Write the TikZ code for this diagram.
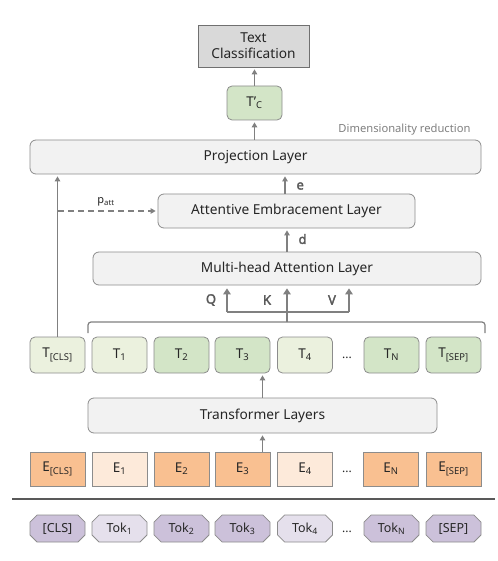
\documentclass[tikz,border=0pt]{standalone}
\usepackage{fontspec}
\setmainfont{Noto Sans}
\newfontfamily\lblfont{Noto Sans}[AutoFakeBold=2.5]
\usetikzlibrary{arrows.meta,shapes.misc}
\definecolor{bord}{HTML}{8C8C8C}
\definecolor{layerfill}{HTML}{F2F2F2}
\definecolor{gL}{HTML}{EBF1DE}
\definecolor{gD}{HTML}{D3E5C7}
\definecolor{oD}{HTML}{F9C091}
\definecolor{oL}{HTML}{FDEADA}
\definecolor{pD}{HTML}{CCC1DA}
\definecolor{pL}{HTML}{E5E0EC}
\definecolor{txt}{HTML}{262626}
\definecolor{arr}{HTML}{808080}
\definecolor{lbl}{HTML}{595959}
\begin{document}
\begin{tikzpicture}[x=1pt,y=-1pt,
  font=\fontsize{13.7}{15}\selectfont, text=txt,
  layer/.style={draw=bord, fill=layerfill, rounded corners=6pt, line width=0.8pt, inner sep=0pt},
  tbox/.style={draw=bord, rounded corners=5pt, minimum width=55pt, minimum height=36pt, inner sep=0pt, line width=0.8pt, font=\fontsize{13.5}{15}\selectfont},
  ebox/.style={draw=bord, minimum width=55pt, minimum height=34pt, inner sep=0pt, line width=0.8pt, font=\fontsize{13.5}{15}\selectfont},
  tokbox/.style={draw=bord, chamfered rectangle, chamfered rectangle xsep=3.5pt, minimum width=55pt, minimum height=27pt, inner sep=0pt, line width=0.8pt, font=\fontsize{12.5}{14}\selectfont},
  uparr/.style={draw=arr, line width=1.5pt, -{Triangle[width=5.5pt,length=5pt]}, shorten >=2pt},
  qkv/.style={draw=arr, line width=2.6pt, -{Triangle[width=7.5pt,length=6pt]}},
  qkvlbl/.style={font=\lblfont\bfseries\fontsize{13}{15}\selectfont, text=lbl},
  dots/.style={font=\fontsize{12}{14}\selectfont, text=txt}
]
\useasboundingbox (0,0) rectangle (497,561);

% top
\node[draw=bord!80!black, fill=black!15, line width=0.8pt, minimum width=111pt, minimum height=42pt, inner sep=0pt, align=center, font=\fontsize{13.7}{16}\selectfont] (cls) at (253.5,46) {Text\\Classification};
\node[tbox, fill=gD, minimum height=34pt] (tc) at (254.5,103) {T'\textsubscript{C}};
\node[layer, minimum width=451pt, minimum height=34pt] (proj) at (255.5,157) {Projection Layer};
\node[layer, minimum width=257pt, minimum height=34pt] (att) at (286.5,211) {Attentive Embracement Layer};
\node[layer, minimum width=388pt, minimum height=33pt] (mha) at (287,268.5) {Multi-head Attention Layer};
\node[layer, minimum width=349pt, minimum height=35pt] (tl) at (262.5,415.5) {Transformer Layers};

\node[anchor=east, font=\fontsize{11.2}{13}\selectfont, text=arr] (dimred) at (474,130) {Dimensionality reduction};

% T row
\node[tbox, fill=gL] (tcls) at (57.5,355) {T\textsubscript{[CLS]}};
\node[tbox, fill=gL] (t1) at (119.5,355) {T\textsubscript{1}};
\node[tbox, fill=gD] (t2) at (181.5,355) {T\textsubscript{2}};
\node[tbox, fill=gD] (t3) at (242.5,355) {T\textsubscript{3}};
\node[tbox, fill=gL] (t4) at (305,355) {T\textsubscript{4}};
\node[dots] (tdots) at (347,358) {...};
\node[tbox, fill=gD] (tn) at (391.5,355) {T\textsubscript{N}};
\node[tbox, fill=gD] (tsep) at (453.5,355) {T\textsubscript{[SEP]}};

% E row
\node[ebox, fill=oD] (ecls) at (57.5,469) {E\textsubscript{[CLS]}};
\node[ebox, fill=oL] (e1) at (119.5,469) {E\textsubscript{1}};
\node[ebox, fill=oD] (e2) at (181.5,469) {E\textsubscript{2}};
\node[ebox, fill=oD] (e3) at (242.5,469) {E\textsubscript{3}};
\node[ebox, fill=oL] (e4) at (305,469) {E\textsubscript{4}};
\node[dots] (edots) at (347,472) {...};
\node[ebox, fill=oD] (en) at (391,469) {E\textsubscript{N}};
\node[ebox, fill=oD] (esep) at (453.5,469) {E\textsubscript{[SEP]}};

% separator
\coordinate (sepL) at (12,499);
\coordinate (sepR) at (495,499);
\draw[draw=lbl, line width=1.2pt] (sepL) -- (sepR);

% Tok row
\node[tokbox, fill=pD] (kcls) at (57.5,528.5) {[CLS]};
\node[tokbox, fill=pL] (k1) at (119.5,528.5) {Tok\textsubscript{1}};
\node[tokbox, fill=pD] (k2) at (181.5,528.5) {Tok\textsubscript{2}};
\node[tokbox, fill=pD] (k3) at (242.5,528.5) {Tok\textsubscript{3}};
\node[tokbox, fill=pL] (k4) at (305,528.5) {Tok\textsubscript{4}};
\node[dots] (kdots) at (347,532) {...};
\node[tokbox, fill=pD] (kn) at (391.5,528.5) {Tok\textsubscript{N}};
\node[tokbox, fill=pD] (ksep) at (453.5,528.5) {[SEP]};

% arrows
\draw[uparr] (tc.north) -- (tc.north |- cls.south);
\draw[uparr] (proj.north -| tc) -- (tc.south);
\draw[uparr] (att.north -| 285,0) -- (proj.south -| 285,0);
\node[qkvlbl, anchor=west] (elbl) at (293,186) {e};
\draw[uparr] (mha.north) -- (mha.north |- att.south);
\node[qkvlbl, anchor=west] (dlbl) at (295,239) {d};
\draw[uparr] (tl.north) -- (tl.north |- t3.south);
\draw[uparr] (tl.south |- e3.north) -- (tl.south);

% CLS to projection and dashed p_att
\draw[uparr] (tcls.north) -- (tcls.north |- proj.south);
\coordinate (pstart) at (58,211);
\draw[draw=arr, line width=1.2pt, dash pattern=on 6pt off 4pt, -{Triangle[width=5.5pt,length=5pt]}, shorten >=2pt] (pstart) -- (att.west);
\node[font=\fontsize{11}{12}\selectfont] (platt) at (106,202) {p\textsubscript{att}};

% brace
\draw[draw=arr, line width=1.2pt, rounded corners=3pt] (88,333) -- (88,322) -- (485,322) -- (485,333);
\coordinate (kb) at (287,318);
\coordinate (qb) at (227,312);
\coordinate (vb) at (349,312);
\draw[draw=arr, line width=2.6pt] (287,322) -- (kb);
\draw[draw=arr, line width=2.6pt] (qb) -- (vb);
\draw[qkv, shorten >=3pt] (kb) -- (kb |- mha.south);
\draw[qkv, shorten >=3pt] (qb) -- (qb |- mha.south);
\draw[qkv, shorten >=3pt] (vb) -- (vb |- mha.south);
\node[qkvlbl] (ql) at (211,300) {Q};
\node[qkvlbl] (kl) at (267,300) {K};
\node[qkvlbl] (vl) at (332,300) {V};
\end{tikzpicture}
\end{document}
